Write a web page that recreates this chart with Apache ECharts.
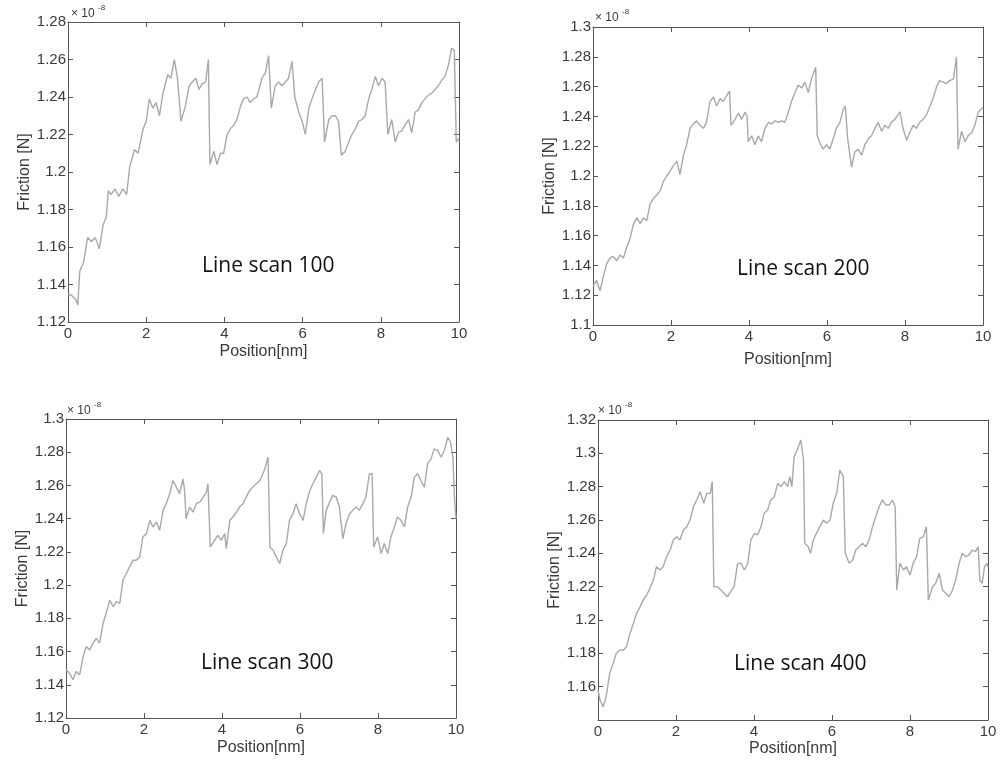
<!DOCTYPE html>
<html>
<head>
<meta charset="utf-8">
<script src="https://cdn.jsdelivr.net/npm/echarts@6/dist/echarts.min.js"></script>
<style>
  html, body { margin: 0; padding: 0; background: #fff; }
  #chart { width: 1000px; height: 764px; }
</style>
</head>
<body>
<div id="chart"></div>
<script>
// friction traces, [position nm, friction x1e-8 N]
const scan100 = [[0,1.135],[0.1,1.134],[0.2,1.132],[0.25,1.129],[0.3,1.147],[0.4,1.152],[0.5,1.165],[0.6,1.163],[0.7,1.165],[0.8,1.159],[0.9,1.172],[0.98,1.176],[1.03,1.190],[1.1,1.188],[1.2,1.191],[1.3,1.187],[1.4,1.191],[1.5,1.188],[1.58,1.203],[1.7,1.212],[1.79,1.210],[1.92,1.223],[2.0,1.227],[2.08,1.239],[2.17,1.234],[2.25,1.237],[2.34,1.230],[2.42,1.241],[2.55,1.252],[2.63,1.250],[2.72,1.260],[2.8,1.250],[2.89,1.227],[2.93,1.226],[3.0,1.235],[3.1,1.246],[3.18,1.248],[3.27,1.250],[3.35,1.244],[3.43,1.247],[3.52,1.248],[3.59,1.260],[3.63,1.204],[3.73,1.211],[3.81,1.204],[3.9,1.210],[3.98,1.210],[4.07,1.220],[4.15,1.223],[4.24,1.225],[4.32,1.228],[4.41,1.235],[4.49,1.239],[4.58,1.240],[4.66,1.237],[4.75,1.239],[4.83,1.240],[4.91,1.246],[4.96,1.250],[5.05,1.253],[5.13,1.262],[5.2,1.234],[5.3,1.246],[5.39,1.248],[5.47,1.246],[5.56,1.248],[5.64,1.250],[5.73,1.259],[5.8,1.240],[5.9,1.232],[5.99,1.227],[6.07,1.220],[6.16,1.234],[6.24,1.239],[6.33,1.244],[6.41,1.248],[6.5,1.250],[6.56,1.216],[6.67,1.228],[6.75,1.230],[6.84,1.230],[6.92,1.227],[6.99,1.209],[7.09,1.211],[7.18,1.216],[7.26,1.220],[7.35,1.223],[7.43,1.227],[7.52,1.228],[7.6,1.230],[7.69,1.239],[7.77,1.244],[7.86,1.251],[7.94,1.246],[8.03,1.250],[8.11,1.248],[8.18,1.220],[8.28,1.228],[8.37,1.216],[8.45,1.221],[8.54,1.222],[8.62,1.225],[8.71,1.228],[8.79,1.221],[8.88,1.232],[8.96,1.233],[9.05,1.237],[9.13,1.239],[9.22,1.241],[9.3,1.242],[9.39,1.244],[9.47,1.246],[9.56,1.249],[9.64,1.251],[9.73,1.257],[9.81,1.266],[9.88,1.265],[9.93,1.216],[10,1.218]];

const scan200 = [[0,1.126],[0.09,1.130],[0.18,1.123],[0.26,1.132],[0.35,1.141],[0.44,1.145],[0.52,1.146],[0.61,1.143],[0.69,1.147],[0.78,1.145],[0.86,1.152],[0.95,1.158],[1.03,1.167],[1.12,1.172],[1.21,1.168],[1.29,1.172],[1.38,1.170],[1.46,1.181],[1.55,1.185],[1.63,1.187],[1.72,1.190],[1.8,1.196],[1.89,1.200],[1.97,1.203],[2.06,1.207],[2.15,1.210],[2.23,1.201],[2.32,1.214],[2.4,1.221],[2.49,1.232],[2.57,1.235],[2.66,1.237],[2.74,1.234],[2.83,1.232],[2.91,1.236],[3.0,1.250],[3.09,1.253],[3.17,1.247],[3.26,1.252],[3.34,1.250],[3.43,1.254],[3.5,1.257],[3.54,1.234],[3.64,1.238],[3.73,1.242],[3.81,1.238],[3.9,1.243],[3.95,1.240],[3.98,1.223],[4.07,1.227],[4.15,1.221],[4.24,1.227],[4.32,1.223],[4.41,1.232],[4.5,1.236],[4.58,1.235],[4.67,1.237],[4.75,1.236],[4.84,1.237],[4.92,1.236],[5.01,1.243],[5.09,1.250],[5.18,1.256],[5.26,1.261],[5.35,1.259],[5.43,1.263],[5.52,1.256],[5.6,1.265],[5.71,1.273],[5.75,1.227],[5.82,1.222],[5.9,1.218],[5.99,1.221],[6.07,1.218],[6.16,1.225],[6.24,1.232],[6.33,1.236],[6.41,1.244],[6.47,1.247],[6.53,1.225],[6.63,1.206],[6.71,1.216],[6.8,1.218],[6.89,1.214],[6.97,1.221],[7.06,1.225],[7.14,1.227],[7.23,1.232],[7.31,1.236],[7.4,1.230],[7.48,1.234],[7.57,1.232],[7.65,1.236],[7.74,1.238],[7.87,1.243],[7.95,1.232],[8.04,1.224],[8.12,1.229],[8.21,1.234],[8.29,1.232],[8.38,1.236],[8.46,1.238],[8.55,1.241],[8.64,1.247],[8.72,1.252],[8.81,1.260],[8.89,1.264],[8.98,1.263],[9.06,1.262],[9.15,1.264],[9.24,1.265],[9.32,1.280],[9.36,1.218],[9.45,1.230],[9.54,1.223],[9.62,1.227],[9.71,1.229],[9.79,1.234],[9.88,1.243],[9.96,1.245],[10,1.246]];

const scan300 = [[0,1.149],[0.09,1.147],[0.18,1.143],[0.26,1.148],[0.35,1.146],[0.44,1.157],[0.52,1.163],[0.61,1.161],[0.69,1.165],[0.78,1.168],[0.86,1.165],[0.95,1.177],[1.03,1.183],[1.12,1.191],[1.21,1.187],[1.29,1.190],[1.38,1.189],[1.46,1.203],[1.55,1.207],[1.63,1.211],[1.72,1.215],[1.8,1.215],[1.89,1.217],[1.97,1.229],[2.06,1.231],[2.15,1.239],[2.23,1.235],[2.32,1.238],[2.4,1.233],[2.49,1.245],[2.57,1.249],[2.66,1.255],[2.74,1.263],[2.83,1.259],[2.91,1.255],[3.0,1.264],[3.04,1.257],[3.08,1.240],[3.17,1.247],[3.26,1.244],[3.34,1.249],[3.43,1.250],[3.52,1.253],[3.6,1.256],[3.64,1.261],[3.7,1.223],[3.81,1.227],[3.9,1.230],[3.98,1.227],[4.07,1.231],[4.11,1.222],[4.2,1.239],[4.28,1.241],[4.37,1.244],[4.45,1.247],[4.54,1.249],[4.62,1.253],[4.71,1.257],[4.79,1.259],[4.88,1.261],[4.97,1.263],[5.05,1.267],[5.11,1.271],[5.18,1.277],[5.23,1.223],[5.31,1.221],[5.39,1.217],[5.48,1.213],[5.56,1.221],[5.65,1.225],[5.73,1.239],[5.82,1.243],[5.9,1.249],[5.99,1.243],[6.08,1.239],[6.16,1.249],[6.25,1.257],[6.33,1.261],[6.42,1.265],[6.5,1.269],[6.56,1.267],[6.6,1.231],[6.67,1.245],[6.76,1.250],[6.84,1.254],[6.93,1.253],[7.01,1.247],[7.1,1.228],[7.18,1.237],[7.27,1.243],[7.35,1.245],[7.44,1.247],[7.52,1.245],[7.61,1.249],[7.69,1.253],[7.78,1.267],[7.85,1.267],[7.89,1.223],[7.99,1.229],[8.08,1.219],[8.16,1.225],[8.25,1.219],[8.33,1.229],[8.42,1.235],[8.5,1.241],[8.59,1.239],[8.68,1.235],[8.76,1.247],[8.85,1.253],[8.93,1.265],[9.02,1.267],[9.1,1.263],[9.19,1.259],[9.27,1.273],[9.36,1.276],[9.44,1.282],[9.53,1.281],[9.62,1.277],[9.7,1.281],[9.79,1.289],[9.86,1.286],[9.92,1.277],[9.96,1.253],[10,1.240]];

const scan400 = [[0,1.158],[0.05,1.152],[0.13,1.148],[0.21,1.154],[0.3,1.168],[0.39,1.174],[0.47,1.180],[0.56,1.182],[0.65,1.182],[0.73,1.184],[0.82,1.192],[0.91,1.198],[0.99,1.204],[1.08,1.208],[1.16,1.212],[1.25,1.215],[1.33,1.219],[1.42,1.224],[1.5,1.232],[1.59,1.230],[1.67,1.232],[1.76,1.238],[1.85,1.242],[1.93,1.248],[2.02,1.250],[2.1,1.248],[2.19,1.254],[2.28,1.256],[2.36,1.260],[2.45,1.268],[2.53,1.272],[2.62,1.277],[2.71,1.270],[2.79,1.276],[2.88,1.276],[2.93,1.283],[2.97,1.220],[3.06,1.220],[3.15,1.218],[3.23,1.216],[3.32,1.214],[3.4,1.217],[3.49,1.220],[3.58,1.234],[3.67,1.234],[3.75,1.230],[3.84,1.234],[3.92,1.248],[4.01,1.252],[4.09,1.251],[4.18,1.256],[4.26,1.264],[4.35,1.266],[4.43,1.272],[4.52,1.274],[4.61,1.282],[4.69,1.280],[4.78,1.283],[4.86,1.280],[4.92,1.286],[4.97,1.280],[5.03,1.298],[5.11,1.302],[5.2,1.308],[5.27,1.296],[5.3,1.246],[5.39,1.244],[5.45,1.240],[5.52,1.248],[5.6,1.252],[5.69,1.256],[5.78,1.260],[5.86,1.258],[5.95,1.260],[6.03,1.270],[6.12,1.276],[6.2,1.290],[6.29,1.286],[6.34,1.240],[6.44,1.234],[6.53,1.236],[6.61,1.242],[6.7,1.244],[6.78,1.246],[6.87,1.244],[6.95,1.248],[7.04,1.256],[7.12,1.262],[7.21,1.268],[7.29,1.272],[7.38,1.269],[7.47,1.269],[7.55,1.272],[7.62,1.268],[7.66,1.218],[7.74,1.234],[7.83,1.230],[7.91,1.232],[8.0,1.227],[8.08,1.234],[8.17,1.238],[8.25,1.249],[8.34,1.250],[8.42,1.256],[8.47,1.212],[8.58,1.220],[8.66,1.222],[8.75,1.228],[8.83,1.218],[8.92,1.216],[9.0,1.214],[9.09,1.218],[9.17,1.224],[9.26,1.234],[9.34,1.240],[9.43,1.238],[9.51,1.239],[9.6,1.242],[9.68,1.241],[9.75,1.244],[9.79,1.224],[9.85,1.222],[9.91,1.232],[9.97,1.234],[10,1.232]];

// y ranges per panel
const yMins = [1.12, 1.1, 1.12, 1.14];
const yMaxs = [1.28, 1.3, 1.3, 1.32];
const titles = ['Line scan 100', 'Line scan 200', 'Line scan 300', 'Line scan 400'];
const traces = [scan100, scan200, scan300, scan400];

// layout of the 4 panels (px)
const panels = [
  { left: 68, top: 22, width: 391, height: 300, xGap: 22, label: [268, 270], exp: [71, 8] },
  { left: 593, top: 27, width: 390, height: 298, xGap: 27, label: [803, 273], exp: [595, 12] },
  { left: 66, top: 419, width: 390, height: 299, xGap: 22, label: [267, 667], exp: [67, 405] },
  { left: 598, top: 420, width: 390, height: 300, xGap: 21, label: [800, 668], exp: [598, 405] }
];

const frameColor = '#555';
const textColor = '#3a3a3a';
const font = 'Liberation Sans';

const grids = [], xAxes = [], yAxes = [], series = [], graphics = [];

panels.forEach((p, i) => {
  grids.push({ left: p.left, top: p.top, width: p.width, height: p.height, containLabel: false });

  const xBase = {
    type: 'value', gridIndex: i, min: 0, max: 10, interval: 2,
    splitLine: { show: false },
    axisLine: { show: true, onZero: false, lineStyle: { color: frameColor, width: 1 } },
    axisTick: { show: true, inside: true, length: 5, lineStyle: { color: frameColor } }
  };
  xAxes.push(Object.assign({}, xBase, {
    position: 'bottom',
    axisLabel: { color: textColor, fontSize: 15, fontFamily: font, margin: 4 },
    name: 'Position[nm]', nameLocation: 'middle', nameGap: p.xGap,
    nameTextStyle: { color: textColor, fontSize: 16, fontFamily: font }
  }));
  xAxes.push(Object.assign({}, xBase, { position: 'top', axisLabel: { show: false } }));

  const yBase = {
    type: 'value', gridIndex: i, min: yMins[i], max: yMaxs[i], interval: 0.02,
    splitLine: { show: false },
    axisLine: { show: true, onZero: false, lineStyle: { color: frameColor, width: 1 } },
    axisTick: { show: true, inside: true, length: 5, lineStyle: { color: frameColor } }
  };
  yAxes.push(Object.assign({}, yBase, {
    position: 'left',
    axisLabel: { color: textColor, fontSize: 15, fontFamily: font, margin: 2, showMinLabel: i !== 3 },
    name: 'Friction [N]', nameLocation: 'middle', nameGap: 35,
    nameTextStyle: { color: textColor, fontSize: 16, fontFamily: font }
  }));
  yAxes.push(Object.assign({}, yBase, { position: 'right', axisLabel: { show: false } }));

  series.push({
    type: 'line', xAxisIndex: i * 2, yAxisIndex: i * 2,
    data: traces[i], showSymbol: false, symbol: 'none',
    lineStyle: { color: '#a9a9a9', width: 1.4 },
    animation: false
  });

  graphics.push({
    type: 'text', left: p.label[0] - 66, top: p.label[1] - 14,
    style: { text: titles[i], font: '21px "Open Sans"', fill: '#111' }
  });
  graphics.push({
    type: 'text', left: p.exp[0], top: p.exp[1],
    style: { text: '\u00d7 10', font: '12px "Liberation Sans"', fill: textColor }
  });
  graphics.push({
    type: 'text', left: p.exp[0] + 27, top: p.exp[1] - 4,
    style: { text: '-8', font: '8px "Liberation Sans"', fill: textColor }
  });
});

const chart = echarts.init(document.getElementById('chart'));
chart.setOption({
  backgroundColor: '#fff',
  animation: false,
  grid: grids,
  xAxis: xAxes,
  yAxis: yAxes,
  series: series,
  graphic: graphics
});
</script>
</body>
</html>
